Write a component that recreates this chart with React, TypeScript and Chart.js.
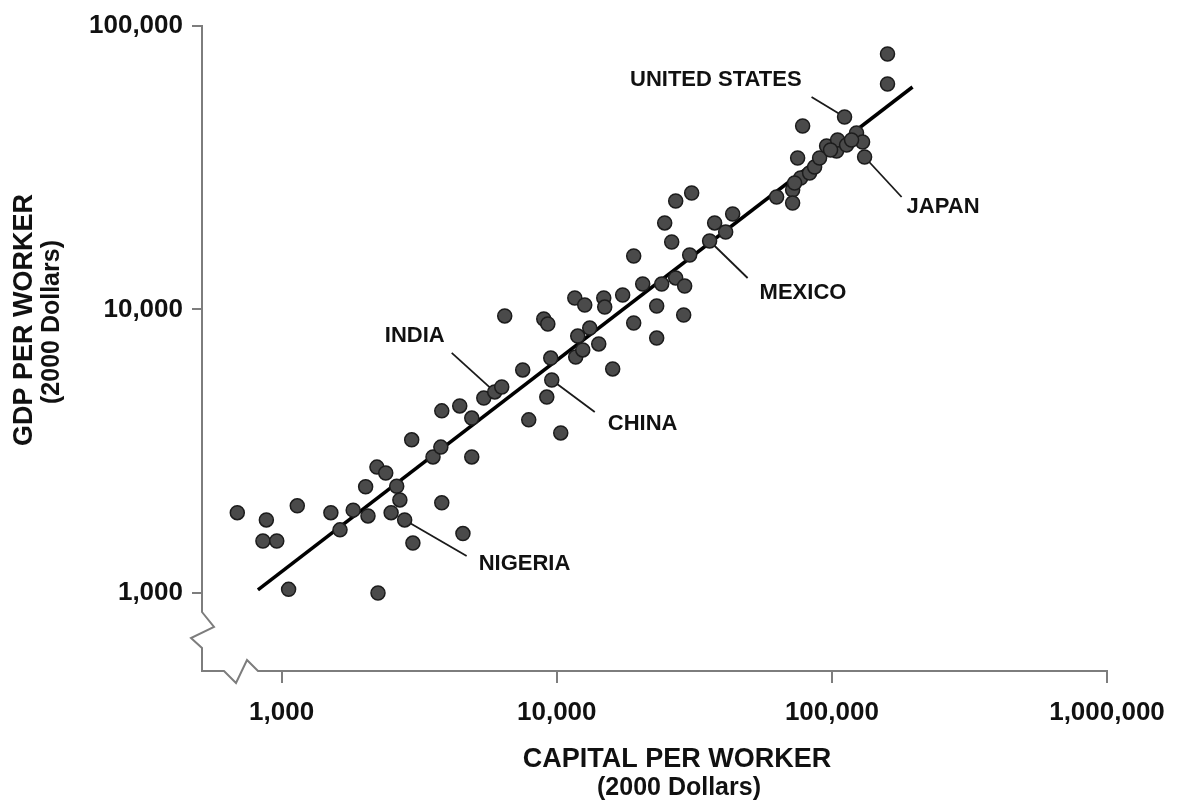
import React, { useEffect, useRef } from "react";
import { Chart, registerables } from "chart.js";

Chart.register(...registerables);

// Capital per worker (2000 dollars), one entry per country
const capitalPerWorker = [
  690, 880, 855, 960, 1140, 1060, 1510, 1630, 1820, 2060,
  2020, 2220, 2390, 2620, 2690, 2500, 2800, 3000, 2240, 2970,
  3550, 3790, 4910, 3820, 4560, 3820, 4440, 4910, 5430, 5950,
  6310, 6470, 7520, 7910, 9200, 9590, 10340, 9510, 8970, 9280,
  11720, 12430, 11920, 13180, 14210, 15970, 11630, 12640, 14820, 14940,
  17360, 19040, 23080, 23080, 28930, 19040, 20530, 24070, 27060, 29170,
  26170, 24680, 27060, 30930, 30420, 35940, 37490, 41110, 43590, 62960,
  72000, 72000, 75080, 78290, 111200, 131500, 159300, 159300, 76990, 73200,
  82990, 86550, 90230, 95680, 104000, 104900, 113100, 122900, 129300, 98900,
  117900,
];

// GDP per worker (2000 dollars), same order as capitalPerWorker
const gdpPerWorker = [
  1920, 1810, 1525, 1525, 2030, 1030, 1920, 1670, 1960, 1870,
  2370, 2780, 2650, 2380, 2130, 1920, 1810, 1500, 1000, 3470,
  3020, 3270, 3020, 2080, 1620, 4390, 4570, 4140, 4870, 5120,
  5330, 9490, 6120, 4080, 4910, 5640, 3670, 6740, 9260, 8890,
  6800, 7200, 8060, 8600, 7560, 6170, 10980, 10370, 10980, 10200,
  11250, 8960, 7930, 10290, 9560, 15440, 12300, 12300, 12920, 12100,
  17300, 20200, 24130, 25760, 15570, 17440, 20200, 18770, 21720, 24930,
  26400, 23750, 34230, 44390, 47750, 34510, 62430, 79650, 29090, 27940,
  30300, 31810, 34230, 37730, 36230, 39610, 38040, 41940, 38970, 36520,
  39610,
];

// Fitted trend line end points
const trendCapital = [820, 196400];
const trendGdp = [1025, 60930];

// Axis ticks
const xTickValues = [1000, 10000, 100000, 1000000];
const yTickValues = [1000, 10000, 100000];

// Named countries and the index of their point
const countryNames = ["UNITED STATES", "JAPAN", "MEXICO", "INDIA", "CHINA", "NIGERIA"];
const countryIndex = [74, 75, 65, 29, 35, 16];

// Callout geometry (pixel offsets from the point): leader end, label anchor, alignment
const callouts = [
  { lx: -33, ly: -20, tx: -43, ty: -37, align: "right" },
  { lx: 37, ly: 40, tx: 42, ty: 50, align: "left" },
  { lx: 38, ly: 37, tx: 50, ty: 52, align: "left" },
  { lx: -43, ly: -39, tx: -50, ty: -56, align: "right" },
  { lx: 43, ly: 32, tx: 56, ty: 44, align: "left" },
  { lx: 62, ly: 36, tx: 74, ty: 44, align: "left" },
];

const FONT_FAMILY = "'Liberation Sans', Arial, Helvetica, sans-serif";
const TEXT_COLOR = "#111111";
const AXIS_GRAY = "#7d7d7d";

const fmt = (v: number) => Number(v).toLocaleString("en-US");

const framePlugin = {
  id: "frameAndCallouts",
  beforeDatasetsDraw(chart: any) {
    const { ctx, chartArea: a, scales } = chart;
    const L = a.left;
    const B = a.bottom;
    ctx.save();
    // axes with break marks near the origin
    ctx.strokeStyle = AXIS_GRAY;
    ctx.lineWidth = 2;
    ctx.lineJoin = "miter";
    ctx.beginPath();
    ctx.moveTo(L, a.top - 1);
    ctx.lineTo(L, B - 59);
    ctx.lineTo(L + 12, B - 44);
    ctx.lineTo(L - 11, B - 33);
    ctx.lineTo(L, B - 23);
    ctx.lineTo(L, B);
    ctx.lineTo(L + 22, B);
    ctx.lineTo(L + 34, B + 12);
    ctx.lineTo(L + 45, B - 11);
    ctx.lineTo(L + 56, B);
    ctx.lineTo(a.right + 1, B);
    ctx.stroke();

    // leader lines for named countries
    ctx.strokeStyle = "#1a1a1a";
    ctx.lineWidth = 1.8;
    countryIndex.forEach((idx, i) => {
      const px = scales.x.getPixelForValue(capitalPerWorker[idx]);
      const py = scales.y.getPixelForValue(gdpPerWorker[idx]);
      const c = callouts[i];
      ctx.beginPath();
      ctx.moveTo(px, py);
      ctx.lineTo(px + c.lx, py + c.ly);
      ctx.stroke();
    });
    ctx.restore();
  },
  afterDraw(chart: any) {
    const { ctx, scales } = chart;
    ctx.save();
    ctx.fillStyle = TEXT_COLOR;
    ctx.textBaseline = "middle";

    // country names
    ctx.font = `bold 22px ${FONT_FAMILY}`;
    countryIndex.forEach((idx, i) => {
      const px = scales.x.getPixelForValue(capitalPerWorker[idx]);
      const py = scales.y.getPixelForValue(gdpPerWorker[idx]);
      const c = callouts[i];
      ctx.textAlign = c.align;
      ctx.fillText(countryNames[i], px + c.tx, py + c.ty);
    });

    // x-axis title
    ctx.textAlign = "center";
    ctx.font = `bold 27px ${FONT_FAMILY}`;
    ctx.fillText("CAPITAL PER WORKER", 677, 760);
    ctx.font = `bold 25px ${FONT_FAMILY}`;
    ctx.fillText("(2000 Dollars)", 679, 788);

    // y-axis title
    ctx.save();
    ctx.translate(25, 320);
    ctx.rotate(-Math.PI / 2);
    ctx.font = `bold 27px ${FONT_FAMILY}`;
    ctx.fillText("GDP PER WORKER", 0, 0);
    ctx.restore();
    ctx.save();
    ctx.translate(52, 322);
    ctx.rotate(-Math.PI / 2);
    ctx.font = `bold 25px ${FONT_FAMILY}`;
    ctx.fillText("(2000 Dollars)", 0, 0);
    ctx.restore();

    ctx.restore();
  },
};

export default function App() {
  const canvasRef = useRef<HTMLCanvasElement>(null);

  useEffect(() => {
    const canvas = canvasRef.current;
    if (!canvas) return;

    const points = capitalPerWorker.map((c, i) => ({ x: c, y: gdpPerWorker[i] }));
    const trend = trendCapital.map((c, i) => ({ x: c, y: trendGdp[i] }));
    const tickFont = { family: FONT_FAMILY, size: 26, weight: "bold" as const };

    const chart = new Chart(canvas, {
      type: "scatter",
      data: {
        datasets: [
          {
            data: points,
            pointRadius: 7,
            pointBackgroundColor: "#4a4a4a",
            pointBorderColor: "#1c1c1c",
            pointBorderWidth: 1.5,
            order: 0,
          },
          {
            data: trend,
            showLine: true,
            borderColor: "#000000",
            borderWidth: 3.5,
            pointRadius: 0,
            order: 1,
          } as any,
        ],
      },
      options: {
        responsive: false,
        animation: false,
        events: [],
        layout: { padding: { top: 26, right: 72, left: 0, bottom: 0 } },
        plugins: {
          legend: { display: false },
          tooltip: { enabled: false },
        },
        scales: {
          x: {
            type: "logarithmic",
            min: 513.5,
            max: 1000000,
            afterBuildTicks: (s: any) => {
              s.ticks = xTickValues.map((v) => ({ value: v }));
            },
            afterFit: (s: any) => {
              s.height = 130;
            },
            grid: {
              drawOnChartArea: false,
              drawTicks: true,
              tickLength: 12,
              color: AXIS_GRAY,
              lineWidth: 2,
            },
            border: { display: false },
            ticks: {
              padding: 14,
              font: tickFont,
              color: TEXT_COLOR,
              maxRotation: 0,
              autoSkip: false,
              callback: (v: any) => fmt(v),
            },
          },
          y: {
            type: "logarithmic",
            min: 530.7,
            max: 100000,
            afterBuildTicks: (s: any) => {
              s.ticks = yTickValues.map((v) => ({ value: v }));
            },
            afterFit: (s: any) => {
              s.width = 202;
            },
            grid: {
              drawOnChartArea: false,
              drawTicks: true,
              tickLength: 10,
              color: AXIS_GRAY,
              lineWidth: 2,
            },
            border: { display: false },
            ticks: {
              padding: 9,
              font: tickFont,
              color: TEXT_COLOR,
              autoSkip: false,
              callback: (v: any) => fmt(v),
            },
          },
        },
      },
      plugins: [framePlugin as any],
    });

    return () => chart.destroy();
  }, []);

  return (
    <div
      style={{
        position: "absolute",
        left: 0,
        top: 0,
        width: 1179,
        height: 801,
        background: "#ffffff",
      }}
    >
      <canvas ref={canvasRef} width={1179} height={801} style={{ display: "block" }} />
    </div>
  );
}
